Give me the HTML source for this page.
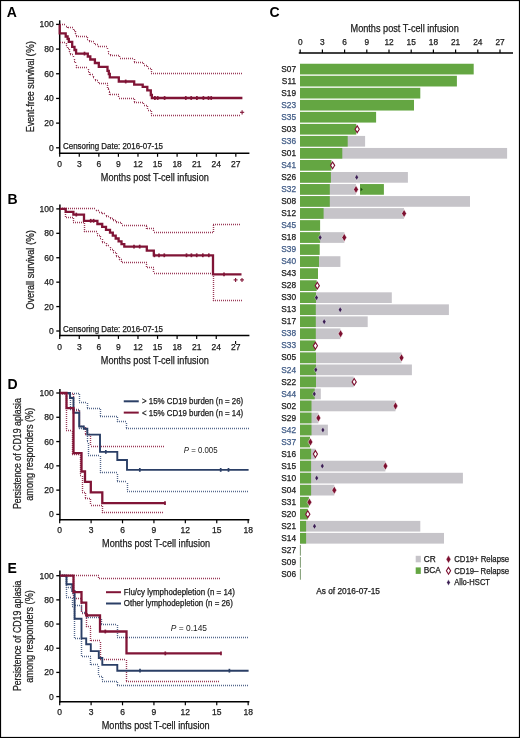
<!DOCTYPE html><html><head><meta charset="utf-8"><style>html,body{margin:0;padding:0;background:#fff;}svg{display:block;will-change:transform;}text{font-family:"Liberation Sans",sans-serif;}</style></head><body>
<svg width="520" height="738" viewBox="0 0 520 738">
<rect x="0" y="0" width="520" height="738" fill="#fff"/>
<text x="6.8" y="16.9" font-size="14" text-anchor="start" font-weight="bold" fill="#000" >A</text>
<line x1="59.7" y1="20.3" x2="59.7" y2="154.05" stroke="#000" stroke-width="1.5" />
<line x1="58.95" y1="153.3" x2="249.4" y2="153.3" stroke="#000" stroke-width="1.5" />
<line x1="56.1" y1="24.4" x2="59.7" y2="24.4" stroke="#000" stroke-width="1.3" />
<text x="53.7" y="27.4" font-size="8.5" text-anchor="end" font-weight="normal" fill="#1a1a1a" stroke="#1a1a1a" stroke-width="0.25" >100</text>
<line x1="56.1" y1="49.08" x2="59.7" y2="49.08" stroke="#000" stroke-width="1.3" />
<text x="53.7" y="52.08" font-size="8.5" text-anchor="end" font-weight="normal" fill="#1a1a1a" stroke="#1a1a1a" stroke-width="0.25" >80</text>
<line x1="56.1" y1="73.76" x2="59.7" y2="73.76" stroke="#000" stroke-width="1.3" />
<text x="53.7" y="76.76" font-size="8.5" text-anchor="end" font-weight="normal" fill="#1a1a1a" stroke="#1a1a1a" stroke-width="0.25" >60</text>
<line x1="56.1" y1="98.44" x2="59.7" y2="98.44" stroke="#000" stroke-width="1.3" />
<text x="53.7" y="101.44" font-size="8.5" text-anchor="end" font-weight="normal" fill="#1a1a1a" stroke="#1a1a1a" stroke-width="0.25" >40</text>
<line x1="56.1" y1="123.12" x2="59.7" y2="123.12" stroke="#000" stroke-width="1.3" />
<text x="53.7" y="126.12" font-size="8.5" text-anchor="end" font-weight="normal" fill="#1a1a1a" stroke="#1a1a1a" stroke-width="0.25" >20</text>
<line x1="56.1" y1="147.8" x2="59.7" y2="147.8" stroke="#000" stroke-width="1.3" />
<text x="53.7" y="150.8" font-size="8.5" text-anchor="end" font-weight="normal" fill="#1a1a1a" stroke="#1a1a1a" stroke-width="0.25" >0</text>
<line x1="59.7" y1="153.3" x2="59.7" y2="156.8" stroke="#000" stroke-width="1.2" />
<text x="59.7" y="166.6" font-size="8.5" text-anchor="middle" font-weight="normal" fill="#1a1a1a" stroke="#1a1a1a" stroke-width="0.25" >0</text>
<line x1="79.27" y1="153.3" x2="79.27" y2="156.8" stroke="#000" stroke-width="1.2" />
<text x="79.27" y="166.6" font-size="8.5" text-anchor="middle" font-weight="normal" fill="#1a1a1a" stroke="#1a1a1a" stroke-width="0.25" >3</text>
<line x1="98.84" y1="153.3" x2="98.84" y2="156.8" stroke="#000" stroke-width="1.2" />
<text x="98.84" y="166.6" font-size="8.5" text-anchor="middle" font-weight="normal" fill="#1a1a1a" stroke="#1a1a1a" stroke-width="0.25" >6</text>
<line x1="118.41" y1="153.3" x2="118.41" y2="156.8" stroke="#000" stroke-width="1.2" />
<text x="118.41" y="166.6" font-size="8.5" text-anchor="middle" font-weight="normal" fill="#1a1a1a" stroke="#1a1a1a" stroke-width="0.25" >9</text>
<line x1="137.98" y1="153.3" x2="137.98" y2="156.8" stroke="#000" stroke-width="1.2" />
<text x="137.98" y="166.6" font-size="8.5" text-anchor="middle" font-weight="normal" fill="#1a1a1a" stroke="#1a1a1a" stroke-width="0.25" >12</text>
<line x1="157.55" y1="153.3" x2="157.55" y2="156.8" stroke="#000" stroke-width="1.2" />
<text x="157.55" y="166.6" font-size="8.5" text-anchor="middle" font-weight="normal" fill="#1a1a1a" stroke="#1a1a1a" stroke-width="0.25" >15</text>
<line x1="177.11" y1="153.3" x2="177.11" y2="156.8" stroke="#000" stroke-width="1.2" />
<text x="177.11" y="166.6" font-size="8.5" text-anchor="middle" font-weight="normal" fill="#1a1a1a" stroke="#1a1a1a" stroke-width="0.25" >18</text>
<line x1="196.68" y1="153.3" x2="196.68" y2="156.8" stroke="#000" stroke-width="1.2" />
<text x="196.68" y="166.6" font-size="8.5" text-anchor="middle" font-weight="normal" fill="#1a1a1a" stroke="#1a1a1a" stroke-width="0.25" >21</text>
<line x1="216.25" y1="153.3" x2="216.25" y2="156.8" stroke="#000" stroke-width="1.2" />
<text x="216.25" y="166.6" font-size="8.5" text-anchor="middle" font-weight="normal" fill="#1a1a1a" stroke="#1a1a1a" stroke-width="0.25" >24</text>
<line x1="235.82" y1="153.3" x2="235.82" y2="156.8" stroke="#000" stroke-width="1.2" />
<text x="235.82" y="166.6" font-size="8.5" text-anchor="middle" font-weight="normal" fill="#1a1a1a" stroke="#1a1a1a" stroke-width="0.25" >27</text>
<text x="100.8" y="180.6" font-size="10.6" text-anchor="start" font-weight="normal" fill="#1a1a1a" stroke="#1a1a1a" stroke-width="0.25" textLength="108" lengthAdjust="spacingAndGlyphs" >Months post T-cell infusion</text>
<text transform="translate(34.4,132.3) rotate(-90)" x="0" y="0" font-size="10.4" fill="#222" stroke="#222" stroke-width="0.25" textLength="73.8" lengthAdjust="spacingAndGlyphs">Event-free survival</text>
<text transform="translate(34.4,56.4) rotate(-90)" x="0" y="0" font-size="10.4" fill="#222" stroke="#222" stroke-width="0.25" textLength="15.4" lengthAdjust="spacingAndGlyphs">(%)</text>
<text x="63" y="149.4" font-size="8.5" text-anchor="start" font-weight="normal" fill="#1a1a1a" stroke="#1a1a1a" stroke-width="0.25" textLength="100" lengthAdjust="spacingAndGlyphs" >Censoring Date: 2016-07-15</text>
<path d="M60 24.5H66" fill="none" stroke="#9a3a58" stroke-width="1.4" stroke-dasharray="1 1"/>
<path d="M66.5 26V26" fill="none" stroke="#9a3a58" stroke-width="1.4" stroke-dasharray="1 1"/>
<path d="M66 26.5H68" fill="none" stroke="#9a3a58" stroke-width="1.4" stroke-dasharray="1 1"/>
<path d="M67.5 27V28" fill="none" stroke="#9a3a58" stroke-width="1.4" stroke-dasharray="1 1"/>
<path d="M68 27.5H74" fill="none" stroke="#9a3a58" stroke-width="1.4" stroke-dasharray="1 1"/>
<path d="M73.5 29V30" fill="none" stroke="#9a3a58" stroke-width="1.4" stroke-dasharray="1 1"/>
<path d="M74 30.5H75" fill="none" stroke="#9a3a58" stroke-width="1.4" stroke-dasharray="1 1"/>
<path d="M75.5 31V34" fill="none" stroke="#9a3a58" stroke-width="1.4" stroke-dasharray="1 1"/>
<path d="M75 33.5H76" fill="none" stroke="#9a3a58" stroke-width="1.4" stroke-dasharray="1 1"/>
<path d="M76.5 35V36" fill="none" stroke="#9a3a58" stroke-width="1.4" stroke-dasharray="1 1"/>
<path d="M76 36.5H87" fill="none" stroke="#9a3a58" stroke-width="1.4" stroke-dasharray="1 1"/>
<path d="M87.5 37V39" fill="none" stroke="#9a3a58" stroke-width="1.4" stroke-dasharray="1 1"/>
<path d="M87 39.5H89" fill="none" stroke="#9a3a58" stroke-width="1.4" stroke-dasharray="1 1"/>
<path d="M89.5 40V42" fill="none" stroke="#9a3a58" stroke-width="1.4" stroke-dasharray="1 1"/>
<path d="M89 41.5H95" fill="none" stroke="#9a3a58" stroke-width="1.4" stroke-dasharray="1 1"/>
<path d="M94.5 43V45" fill="none" stroke="#9a3a58" stroke-width="1.4" stroke-dasharray="1 1"/>
<path d="M95 44.5H98" fill="none" stroke="#9a3a58" stroke-width="1.4" stroke-dasharray="1 1"/>
<path d="M98.5 46V47" fill="none" stroke="#9a3a58" stroke-width="1.4" stroke-dasharray="1 1"/>
<path d="M98 46.5H108" fill="none" stroke="#9a3a58" stroke-width="1.4" stroke-dasharray="1 1"/>
<path d="M107.5 48V50" fill="none" stroke="#9a3a58" stroke-width="1.4" stroke-dasharray="1 1"/>
<path d="M108 50.5H108" fill="none" stroke="#9a3a58" stroke-width="1.4" stroke-dasharray="1 1"/>
<path d="M108.5 51V53" fill="none" stroke="#9a3a58" stroke-width="1.4" stroke-dasharray="1 1"/>
<path d="M108 53.5H110" fill="none" stroke="#9a3a58" stroke-width="1.4" stroke-dasharray="1 1"/>
<path d="M110.5 54V55" fill="none" stroke="#9a3a58" stroke-width="1.4" stroke-dasharray="1 1"/>
<path d="M110 55.5H120" fill="none" stroke="#9a3a58" stroke-width="1.4" stroke-dasharray="1 1"/>
<path d="M119.5 56V58" fill="none" stroke="#9a3a58" stroke-width="1.4" stroke-dasharray="1 1"/>
<path d="M120 58.5H134" fill="none" stroke="#9a3a58" stroke-width="1.4" stroke-dasharray="1 1"/>
<path d="M134.5 59V62" fill="none" stroke="#9a3a58" stroke-width="1.4" stroke-dasharray="1 1"/>
<path d="M134 62.5H144" fill="none" stroke="#9a3a58" stroke-width="1.4" stroke-dasharray="1 1"/>
<path d="M143.5 63V65" fill="none" stroke="#9a3a58" stroke-width="1.4" stroke-dasharray="1 1"/>
<path d="M144 65.5H148" fill="none" stroke="#9a3a58" stroke-width="1.4" stroke-dasharray="1 1"/>
<path d="M147.5 66V68" fill="none" stroke="#9a3a58" stroke-width="1.4" stroke-dasharray="1 1"/>
<path d="M148 68.5H151" fill="none" stroke="#9a3a58" stroke-width="1.4" stroke-dasharray="1 1"/>
<path d="M151.5 69V73" fill="none" stroke="#9a3a58" stroke-width="1.4" stroke-dasharray="1 1"/>
<path d="M151 73.5H242" fill="none" stroke="#9a3a58" stroke-width="1.4" stroke-dasharray="1 1"/>
<path d="M60 42.5H66" fill="none" stroke="#9a3a58" stroke-width="1.4" stroke-dasharray="1 1"/>
<path d="M66.5 43V46" fill="none" stroke="#9a3a58" stroke-width="1.4" stroke-dasharray="1 1"/>
<path d="M66 45.5H68" fill="none" stroke="#9a3a58" stroke-width="1.4" stroke-dasharray="1 1"/>
<path d="M67.5 47V48" fill="none" stroke="#9a3a58" stroke-width="1.4" stroke-dasharray="1 1"/>
<path d="M68 48.5H69" fill="none" stroke="#9a3a58" stroke-width="1.4" stroke-dasharray="1 1"/>
<path d="M69.5 49V52" fill="none" stroke="#9a3a58" stroke-width="1.4" stroke-dasharray="1 1"/>
<path d="M69 51.5H70" fill="none" stroke="#9a3a58" stroke-width="1.4" stroke-dasharray="1 1"/>
<path d="M70.5 53V55" fill="none" stroke="#9a3a58" stroke-width="1.4" stroke-dasharray="1 1"/>
<path d="M70 54.5H74" fill="none" stroke="#9a3a58" stroke-width="1.4" stroke-dasharray="1 1"/>
<path d="M73.5 56V58" fill="none" stroke="#9a3a58" stroke-width="1.4" stroke-dasharray="1 1"/>
<path d="M74 57.5H74" fill="none" stroke="#9a3a58" stroke-width="1.4" stroke-dasharray="1 1"/>
<path d="M74.5 59V61" fill="none" stroke="#9a3a58" stroke-width="1.4" stroke-dasharray="1 1"/>
<path d="M74 61.5H76" fill="none" stroke="#9a3a58" stroke-width="1.4" stroke-dasharray="1 1"/>
<path d="M75.5 62V64" fill="none" stroke="#9a3a58" stroke-width="1.4" stroke-dasharray="1 1"/>
<path d="M76 64.5H76" fill="none" stroke="#9a3a58" stroke-width="1.4" stroke-dasharray="1 1"/>
<path d="M76.5 65V68" fill="none" stroke="#9a3a58" stroke-width="1.4" stroke-dasharray="1 1"/>
<path d="M76 67.5H88" fill="none" stroke="#9a3a58" stroke-width="1.4" stroke-dasharray="1 1"/>
<path d="M88.5 69V71" fill="none" stroke="#9a3a58" stroke-width="1.4" stroke-dasharray="1 1"/>
<path d="M88 71.5H90" fill="none" stroke="#9a3a58" stroke-width="1.4" stroke-dasharray="1 1"/>
<path d="M89.5 72V75" fill="none" stroke="#9a3a58" stroke-width="1.4" stroke-dasharray="1 1"/>
<path d="M90 74.5H93" fill="none" stroke="#9a3a58" stroke-width="1.4" stroke-dasharray="1 1"/>
<path d="M93.5 76V78" fill="none" stroke="#9a3a58" stroke-width="1.4" stroke-dasharray="1 1"/>
<path d="M93 77.5H95" fill="none" stroke="#9a3a58" stroke-width="1.4" stroke-dasharray="1 1"/>
<path d="M95.5 79V81" fill="none" stroke="#9a3a58" stroke-width="1.4" stroke-dasharray="1 1"/>
<path d="M95 80.5H99" fill="none" stroke="#9a3a58" stroke-width="1.4" stroke-dasharray="1 1"/>
<path d="M98.5 82V84" fill="none" stroke="#9a3a58" stroke-width="1.4" stroke-dasharray="1 1"/>
<path d="M99 83.5H108" fill="none" stroke="#9a3a58" stroke-width="1.4" stroke-dasharray="1 1"/>
<path d="M107.5 85V88" fill="none" stroke="#9a3a58" stroke-width="1.4" stroke-dasharray="1 1"/>
<path d="M108 88.5H109" fill="none" stroke="#9a3a58" stroke-width="1.4" stroke-dasharray="1 1"/>
<path d="M108.5 89V91" fill="none" stroke="#9a3a58" stroke-width="1.4" stroke-dasharray="1 1"/>
<path d="M109 91.5H110" fill="none" stroke="#9a3a58" stroke-width="1.4" stroke-dasharray="1 1"/>
<path d="M109.5 92V95" fill="none" stroke="#9a3a58" stroke-width="1.4" stroke-dasharray="1 1"/>
<path d="M110 94.5H119" fill="none" stroke="#9a3a58" stroke-width="1.4" stroke-dasharray="1 1"/>
<path d="M118.5 96V98" fill="none" stroke="#9a3a58" stroke-width="1.4" stroke-dasharray="1 1"/>
<path d="M119 98.5H134" fill="none" stroke="#9a3a58" stroke-width="1.4" stroke-dasharray="1 1"/>
<path d="M134.5 99V102" fill="none" stroke="#9a3a58" stroke-width="1.4" stroke-dasharray="1 1"/>
<path d="M134 102.5H144" fill="none" stroke="#9a3a58" stroke-width="1.4" stroke-dasharray="1 1"/>
<path d="M143.5 103V105" fill="none" stroke="#9a3a58" stroke-width="1.4" stroke-dasharray="1 1"/>
<path d="M144 105.5H148" fill="none" stroke="#9a3a58" stroke-width="1.4" stroke-dasharray="1 1"/>
<path d="M147.5 106V110" fill="none" stroke="#9a3a58" stroke-width="1.4" stroke-dasharray="1 1"/>
<path d="M148 110.5H151" fill="none" stroke="#9a3a58" stroke-width="1.4" stroke-dasharray="1 1"/>
<path d="M151.5 111V115" fill="none" stroke="#9a3a58" stroke-width="1.4" stroke-dasharray="1 1"/>
<path d="M151 115.5H241" fill="none" stroke="#9a3a58" stroke-width="1.4" stroke-dasharray="1 1"/>
<path d="M59.7 24.4 H59.7 V33.4 H65.7 V36.5 H67.6 V38.8 H68.8 V41.9 H72.2 V46.9 H74.5 V50.0 H76.1 V53.6 H87.8 V56.5 H90.3 V59.5 H94.9 V63.0 H98.8 V66.8 H107.5 V70.8 H108.8 V74.0 H109.8 V77.4 H118.8 V81.5 H134.2 V84.6 H142.7 V86.9 H147.3 V90.4 H150.8 V95.0 H151.9 V98.0 H242.4" fill="none" stroke="#801436" stroke-width="2.3" stroke-linejoin="miter" />
<line x1="84.5" y1="51.7" x2="84.5" y2="55.5" stroke="#801436" stroke-width="1.7" />
<line x1="125.7" y1="79.6" x2="125.7" y2="83.4" stroke="#801436" stroke-width="1.7" />
<line x1="154.9" y1="96.1" x2="154.9" y2="99.9" stroke="#801436" stroke-width="1.7" />
<line x1="157.7" y1="96.1" x2="157.7" y2="99.9" stroke="#801436" stroke-width="1.7" />
<line x1="164.6" y1="96.1" x2="164.6" y2="99.9" stroke="#801436" stroke-width="1.7" />
<line x1="185.8" y1="96.1" x2="185.8" y2="99.9" stroke="#801436" stroke-width="1.7" />
<line x1="191.2" y1="96.1" x2="191.2" y2="99.9" stroke="#801436" stroke-width="1.7" />
<line x1="196.9" y1="96.1" x2="196.9" y2="99.9" stroke="#801436" stroke-width="1.7" />
<line x1="203.4" y1="96.1" x2="203.4" y2="99.9" stroke="#801436" stroke-width="1.7" />
<line x1="208.5" y1="96.1" x2="208.5" y2="99.9" stroke="#801436" stroke-width="1.7" />
<line x1="211.2" y1="96.1" x2="211.2" y2="99.9" stroke="#801436" stroke-width="1.7" />
<line x1="240.0" y1="112.3" x2="244.2" y2="112.3" stroke="#801436" stroke-width="1.1" />
<line x1="242.1" y1="110.2" x2="242.1" y2="114.4" stroke="#801436" stroke-width="1.1" />
<text x="7.5" y="203.8" font-size="14" text-anchor="start" font-weight="bold" fill="#000" >B</text>
<line x1="59.9" y1="204.5" x2="59.9" y2="336.15" stroke="#000" stroke-width="1.5" />
<line x1="59.15" y1="335.4" x2="249.4" y2="335.4" stroke="#000" stroke-width="1.5" />
<line x1="56.3" y1="208.9" x2="59.9" y2="208.9" stroke="#000" stroke-width="1.3" />
<text x="53.7" y="211.9" font-size="8.5" text-anchor="end" font-weight="normal" fill="#1a1a1a" stroke="#1a1a1a" stroke-width="0.25" >100</text>
<line x1="56.3" y1="233.32" x2="59.9" y2="233.32" stroke="#000" stroke-width="1.3" />
<text x="53.7" y="236.32" font-size="8.5" text-anchor="end" font-weight="normal" fill="#1a1a1a" stroke="#1a1a1a" stroke-width="0.25" >80</text>
<line x1="56.3" y1="257.74" x2="59.9" y2="257.74" stroke="#000" stroke-width="1.3" />
<text x="53.7" y="260.74" font-size="8.5" text-anchor="end" font-weight="normal" fill="#1a1a1a" stroke="#1a1a1a" stroke-width="0.25" >60</text>
<line x1="56.3" y1="282.16" x2="59.9" y2="282.16" stroke="#000" stroke-width="1.3" />
<text x="53.7" y="285.16" font-size="8.5" text-anchor="end" font-weight="normal" fill="#1a1a1a" stroke="#1a1a1a" stroke-width="0.25" >40</text>
<line x1="56.3" y1="306.58" x2="59.9" y2="306.58" stroke="#000" stroke-width="1.3" />
<text x="53.7" y="309.58" font-size="8.5" text-anchor="end" font-weight="normal" fill="#1a1a1a" stroke="#1a1a1a" stroke-width="0.25" >20</text>
<line x1="56.3" y1="331.0" x2="59.9" y2="331.0" stroke="#000" stroke-width="1.3" />
<text x="53.7" y="334.0" font-size="8.5" text-anchor="end" font-weight="normal" fill="#1a1a1a" stroke="#1a1a1a" stroke-width="0.25" >0</text>
<line x1="59.7" y1="335.4" x2="59.7" y2="338.9" stroke="#000" stroke-width="1.2" />
<text x="59.7" y="349.7" font-size="8.5" text-anchor="middle" font-weight="normal" fill="#1a1a1a" stroke="#1a1a1a" stroke-width="0.25" >0</text>
<line x1="79.27" y1="335.4" x2="79.27" y2="338.9" stroke="#000" stroke-width="1.2" />
<text x="79.27" y="349.7" font-size="8.5" text-anchor="middle" font-weight="normal" fill="#1a1a1a" stroke="#1a1a1a" stroke-width="0.25" >3</text>
<line x1="98.84" y1="335.4" x2="98.84" y2="338.9" stroke="#000" stroke-width="1.2" />
<text x="98.84" y="349.7" font-size="8.5" text-anchor="middle" font-weight="normal" fill="#1a1a1a" stroke="#1a1a1a" stroke-width="0.25" >6</text>
<line x1="118.41" y1="335.4" x2="118.41" y2="338.9" stroke="#000" stroke-width="1.2" />
<text x="118.41" y="349.7" font-size="8.5" text-anchor="middle" font-weight="normal" fill="#1a1a1a" stroke="#1a1a1a" stroke-width="0.25" >9</text>
<line x1="137.98" y1="335.4" x2="137.98" y2="338.9" stroke="#000" stroke-width="1.2" />
<text x="137.98" y="349.7" font-size="8.5" text-anchor="middle" font-weight="normal" fill="#1a1a1a" stroke="#1a1a1a" stroke-width="0.25" >12</text>
<line x1="157.55" y1="335.4" x2="157.55" y2="338.9" stroke="#000" stroke-width="1.2" />
<text x="157.55" y="349.7" font-size="8.5" text-anchor="middle" font-weight="normal" fill="#1a1a1a" stroke="#1a1a1a" stroke-width="0.25" >15</text>
<line x1="177.11" y1="335.4" x2="177.11" y2="338.9" stroke="#000" stroke-width="1.2" />
<text x="177.11" y="349.7" font-size="8.5" text-anchor="middle" font-weight="normal" fill="#1a1a1a" stroke="#1a1a1a" stroke-width="0.25" >18</text>
<line x1="196.68" y1="335.4" x2="196.68" y2="338.9" stroke="#000" stroke-width="1.2" />
<text x="196.68" y="349.7" font-size="8.5" text-anchor="middle" font-weight="normal" fill="#1a1a1a" stroke="#1a1a1a" stroke-width="0.25" >21</text>
<line x1="216.25" y1="335.4" x2="216.25" y2="338.9" stroke="#000" stroke-width="1.2" />
<text x="216.25" y="349.7" font-size="8.5" text-anchor="middle" font-weight="normal" fill="#1a1a1a" stroke="#1a1a1a" stroke-width="0.25" >24</text>
<text x="235.82" y="349.7" font-size="8.5" text-anchor="middle" font-weight="normal" fill="#1a1a1a" stroke="#1a1a1a" stroke-width="0.25" >27</text>
<line x1="235.6" y1="341.0" x2="235.6" y2="344.0" stroke="#000" stroke-width="1.1" />
<text x="100.8" y="363.8" font-size="10.6" text-anchor="start" font-weight="normal" fill="#1a1a1a" stroke="#1a1a1a" stroke-width="0.25" textLength="108" lengthAdjust="spacingAndGlyphs" >Months post T-cell infusion</text>
<text transform="translate(34.4,309.6) rotate(-90)" x="0" y="0" font-size="10.4" fill="#222" stroke="#222" stroke-width="0.25" textLength="62.0" lengthAdjust="spacingAndGlyphs">Overall survival</text>
<text transform="translate(34.4,245.0) rotate(-90)" x="0" y="0" font-size="10.4" fill="#222" stroke="#222" stroke-width="0.25" textLength="15.0" lengthAdjust="spacingAndGlyphs">(%)</text>
<text x="63" y="332.3" font-size="8.5" text-anchor="start" font-weight="normal" fill="#1a1a1a" stroke="#1a1a1a" stroke-width="0.25" textLength="100" lengthAdjust="spacingAndGlyphs" >Censoring Date: 2016-07-15</text>
<path d="M60 208.5H96" fill="none" stroke="#9a3a58" stroke-width="1.4" stroke-dasharray="1 1"/>
<path d="M96.5 210V211" fill="none" stroke="#9a3a58" stroke-width="1.4" stroke-dasharray="1 1"/>
<path d="M96 210.5H99" fill="none" stroke="#9a3a58" stroke-width="1.4" stroke-dasharray="1 1"/>
<path d="M99.5 212V212" fill="none" stroke="#9a3a58" stroke-width="1.4" stroke-dasharray="1 1"/>
<path d="M99 212.5H102" fill="none" stroke="#9a3a58" stroke-width="1.4" stroke-dasharray="1 1"/>
<path d="M102.5 213V214" fill="none" stroke="#9a3a58" stroke-width="1.4" stroke-dasharray="1 1"/>
<path d="M102 213.5H106" fill="none" stroke="#9a3a58" stroke-width="1.4" stroke-dasharray="1 1"/>
<path d="M106.5 215V216" fill="none" stroke="#9a3a58" stroke-width="1.4" stroke-dasharray="1 1"/>
<path d="M106 216.5H110" fill="none" stroke="#9a3a58" stroke-width="1.4" stroke-dasharray="1 1"/>
<path d="M110.5 217V218" fill="none" stroke="#9a3a58" stroke-width="1.4" stroke-dasharray="1 1"/>
<path d="M110 218.5H113" fill="none" stroke="#9a3a58" stroke-width="1.4" stroke-dasharray="1 1"/>
<path d="M113.5 219V220" fill="none" stroke="#9a3a58" stroke-width="1.4" stroke-dasharray="1 1"/>
<path d="M113 220.5H116" fill="none" stroke="#9a3a58" stroke-width="1.4" stroke-dasharray="1 1"/>
<path d="M116.5 221V222" fill="none" stroke="#9a3a58" stroke-width="1.4" stroke-dasharray="1 1"/>
<path d="M116 222.5H122" fill="none" stroke="#9a3a58" stroke-width="1.4" stroke-dasharray="1 1"/>
<path d="M121.5 223V225" fill="none" stroke="#9a3a58" stroke-width="1.4" stroke-dasharray="1 1"/>
<path d="M122 225.5H147" fill="none" stroke="#9a3a58" stroke-width="1.4" stroke-dasharray="1 1"/>
<path d="M146.5 226V229" fill="none" stroke="#9a3a58" stroke-width="1.4" stroke-dasharray="1 1"/>
<path d="M147 228.5H154" fill="none" stroke="#9a3a58" stroke-width="1.4" stroke-dasharray="1 1"/>
<path d="M153.5 230V232" fill="none" stroke="#9a3a58" stroke-width="1.4" stroke-dasharray="1 1"/>
<path d="M154 232.5H213" fill="none" stroke="#9a3a58" stroke-width="1.4" stroke-dasharray="1 1"/>
<path d="M213.5 225V232" fill="none" stroke="#9a3a58" stroke-width="1.4" stroke-dasharray="1 1"/>
<path d="M213 224.5H240" fill="none" stroke="#9a3a58" stroke-width="1.4" stroke-dasharray="1 1"/>
<path d="M60 208.5H66" fill="none" stroke="#9a3a58" stroke-width="1.4" stroke-dasharray="1 1"/>
<path d="M65.5 210V217" fill="none" stroke="#9a3a58" stroke-width="1.4" stroke-dasharray="1 1"/>
<path d="M66 217.5H73" fill="none" stroke="#9a3a58" stroke-width="1.4" stroke-dasharray="1 1"/>
<path d="M73.5 218V222" fill="none" stroke="#9a3a58" stroke-width="1.4" stroke-dasharray="1 1"/>
<path d="M73 222.5H84" fill="none" stroke="#9a3a58" stroke-width="1.4" stroke-dasharray="1 1"/>
<path d="M84.5 223V232" fill="none" stroke="#9a3a58" stroke-width="1.4" stroke-dasharray="1 1"/>
<path d="M84 231.5H97" fill="none" stroke="#9a3a58" stroke-width="1.4" stroke-dasharray="1 1"/>
<path d="M97.5 233V235" fill="none" stroke="#9a3a58" stroke-width="1.4" stroke-dasharray="1 1"/>
<path d="M97 235.5H100" fill="none" stroke="#9a3a58" stroke-width="1.4" stroke-dasharray="1 1"/>
<path d="M100.5 236V238" fill="none" stroke="#9a3a58" stroke-width="1.4" stroke-dasharray="1 1"/>
<path d="M100 238.5H102" fill="none" stroke="#9a3a58" stroke-width="1.4" stroke-dasharray="1 1"/>
<path d="M102.5 239V242" fill="none" stroke="#9a3a58" stroke-width="1.4" stroke-dasharray="1 1"/>
<path d="M102 242.5H106" fill="none" stroke="#9a3a58" stroke-width="1.4" stroke-dasharray="1 1"/>
<path d="M106.5 243V246" fill="none" stroke="#9a3a58" stroke-width="1.4" stroke-dasharray="1 1"/>
<path d="M106 245.5H110" fill="none" stroke="#9a3a58" stroke-width="1.4" stroke-dasharray="1 1"/>
<path d="M110.5 247V249" fill="none" stroke="#9a3a58" stroke-width="1.4" stroke-dasharray="1 1"/>
<path d="M110 249.5H113" fill="none" stroke="#9a3a58" stroke-width="1.4" stroke-dasharray="1 1"/>
<path d="M113.5 250V252" fill="none" stroke="#9a3a58" stroke-width="1.4" stroke-dasharray="1 1"/>
<path d="M113 252.5H116" fill="none" stroke="#9a3a58" stroke-width="1.4" stroke-dasharray="1 1"/>
<path d="M116.5 253V256" fill="none" stroke="#9a3a58" stroke-width="1.4" stroke-dasharray="1 1"/>
<path d="M116 256.5H119" fill="none" stroke="#9a3a58" stroke-width="1.4" stroke-dasharray="1 1"/>
<path d="M119.5 257V260" fill="none" stroke="#9a3a58" stroke-width="1.4" stroke-dasharray="1 1"/>
<path d="M119 259.5H122" fill="none" stroke="#9a3a58" stroke-width="1.4" stroke-dasharray="1 1"/>
<path d="M121.5 261V263" fill="none" stroke="#9a3a58" stroke-width="1.4" stroke-dasharray="1 1"/>
<path d="M122 262.5H147" fill="none" stroke="#9a3a58" stroke-width="1.4" stroke-dasharray="1 1"/>
<path d="M146.5 264V268" fill="none" stroke="#9a3a58" stroke-width="1.4" stroke-dasharray="1 1"/>
<path d="M147 267.5H154" fill="none" stroke="#9a3a58" stroke-width="1.4" stroke-dasharray="1 1"/>
<path d="M153.5 269V273" fill="none" stroke="#9a3a58" stroke-width="1.4" stroke-dasharray="1 1"/>
<path d="M154 273.5H213" fill="none" stroke="#9a3a58" stroke-width="1.4" stroke-dasharray="1 1"/>
<path d="M213.5 274V301" fill="none" stroke="#9a3a58" stroke-width="1.4" stroke-dasharray="1 1"/>
<path d="M213 300.5H242" fill="none" stroke="#9a3a58" stroke-width="1.4" stroke-dasharray="1 1"/>
<path d="M59.9 208.8 H65.7 V211.9 H73.4 V214.6 H84.0 V217.6 H84.01 V220.8 H97.4 V224.0 H102.2 V226.9 H106.0 V229.8 H110.0 V232.7 H112.8 V235.6 H115.7 V238.5 H118.6 V241.3 H121.5 V244.2 H124.3 V246.6 H146.8 V250.7 H153.8 V255.3 H213.0 V274.4 H241.5" fill="none" stroke="#801436" stroke-width="2.3" stroke-linejoin="miter" />
<line x1="76.3" y1="212.7" x2="76.3" y2="216.5" stroke="#801436" stroke-width="1.7" />
<line x1="90.7" y1="218.9" x2="90.7" y2="222.70000000000002" stroke="#801436" stroke-width="1.7" />
<line x1="93.6" y1="218.9" x2="93.6" y2="222.70000000000002" stroke="#801436" stroke-width="1.7" />
<line x1="134.0" y1="244.7" x2="134.0" y2="248.5" stroke="#801436" stroke-width="1.7" />
<line x1="139.7" y1="244.7" x2="139.7" y2="248.5" stroke="#801436" stroke-width="1.7" />
<line x1="154.4" y1="253.4" x2="154.4" y2="257.2" stroke="#801436" stroke-width="1.7" />
<line x1="159.0" y1="253.4" x2="159.0" y2="257.2" stroke="#801436" stroke-width="1.7" />
<line x1="164.3" y1="253.4" x2="164.3" y2="257.2" stroke="#801436" stroke-width="1.7" />
<line x1="186.5" y1="253.4" x2="186.5" y2="257.2" stroke="#801436" stroke-width="1.7" />
<line x1="191.4" y1="253.4" x2="191.4" y2="257.2" stroke="#801436" stroke-width="1.7" />
<line x1="196.7" y1="253.4" x2="196.7" y2="257.2" stroke="#801436" stroke-width="1.7" />
<line x1="202.8" y1="253.4" x2="202.8" y2="257.2" stroke="#801436" stroke-width="1.7" />
<line x1="208.8" y1="253.4" x2="208.8" y2="257.2" stroke="#801436" stroke-width="1.7" />
<line x1="224.0" y1="272.5" x2="224.0" y2="276.29999999999995" stroke="#801436" stroke-width="1.7" />
<line x1="233.6" y1="279.9" x2="237.6" y2="279.9" stroke="#801436" stroke-width="1.1" />
<line x1="235.6" y1="277.9" x2="235.6" y2="281.9" stroke="#801436" stroke-width="1.1" />
<line x1="240.0" y1="279.9" x2="244.0" y2="279.9" stroke="#801436" stroke-width="1.1" />
<line x1="242.0" y1="277.9" x2="242.0" y2="281.9" stroke="#801436" stroke-width="1.1" />
<text x="7.5" y="388.8" font-size="14" text-anchor="start" font-weight="bold" fill="#000" >D</text>
<line x1="59.9" y1="389.0" x2="59.9" y2="520.55" stroke="#000" stroke-width="1.5" />
<line x1="59.15" y1="519.8" x2="249.4" y2="519.8" stroke="#000" stroke-width="1.5" />
<line x1="56.3" y1="393.0" x2="59.9" y2="393.0" stroke="#000" stroke-width="1.3" />
<text x="53.7" y="396.0" font-size="8.5" text-anchor="end" font-weight="normal" fill="#1a1a1a" stroke="#1a1a1a" stroke-width="0.25" >100</text>
<line x1="56.3" y1="417.28" x2="59.9" y2="417.28" stroke="#000" stroke-width="1.3" />
<text x="53.7" y="420.28" font-size="8.5" text-anchor="end" font-weight="normal" fill="#1a1a1a" stroke="#1a1a1a" stroke-width="0.25" >80</text>
<line x1="56.3" y1="441.56" x2="59.9" y2="441.56" stroke="#000" stroke-width="1.3" />
<text x="53.7" y="444.56" font-size="8.5" text-anchor="end" font-weight="normal" fill="#1a1a1a" stroke="#1a1a1a" stroke-width="0.25" >60</text>
<line x1="56.3" y1="465.84" x2="59.9" y2="465.84" stroke="#000" stroke-width="1.3" />
<text x="53.7" y="468.84" font-size="8.5" text-anchor="end" font-weight="normal" fill="#1a1a1a" stroke="#1a1a1a" stroke-width="0.25" >40</text>
<line x1="56.3" y1="490.12" x2="59.9" y2="490.12" stroke="#000" stroke-width="1.3" />
<text x="53.7" y="493.12" font-size="8.5" text-anchor="end" font-weight="normal" fill="#1a1a1a" stroke="#1a1a1a" stroke-width="0.25" >20</text>
<line x1="56.3" y1="514.4" x2="59.9" y2="514.4" stroke="#000" stroke-width="1.3" />
<text x="53.7" y="517.4" font-size="8.5" text-anchor="end" font-weight="normal" fill="#1a1a1a" stroke="#1a1a1a" stroke-width="0.25" >0</text>
<line x1="59.7" y1="519.8" x2="59.7" y2="523.3" stroke="#000" stroke-width="1.2" />
<text x="59.7" y="533.0" font-size="8.5" text-anchor="middle" font-weight="normal" fill="#1a1a1a" stroke="#1a1a1a" stroke-width="0.25" >0</text>
<line x1="91.11" y1="519.8" x2="91.11" y2="523.3" stroke="#000" stroke-width="1.2" />
<text x="91.11" y="533.0" font-size="8.5" text-anchor="middle" font-weight="normal" fill="#1a1a1a" stroke="#1a1a1a" stroke-width="0.25" >3</text>
<line x1="122.52" y1="519.8" x2="122.52" y2="523.3" stroke="#000" stroke-width="1.2" />
<text x="122.52" y="533.0" font-size="8.5" text-anchor="middle" font-weight="normal" fill="#1a1a1a" stroke="#1a1a1a" stroke-width="0.25" >6</text>
<line x1="153.93" y1="519.8" x2="153.93" y2="523.3" stroke="#000" stroke-width="1.2" />
<text x="153.93" y="533.0" font-size="8.5" text-anchor="middle" font-weight="normal" fill="#1a1a1a" stroke="#1a1a1a" stroke-width="0.25" >9</text>
<line x1="185.34" y1="519.8" x2="185.34" y2="523.3" stroke="#000" stroke-width="1.2" />
<text x="185.34" y="533.0" font-size="8.5" text-anchor="middle" font-weight="normal" fill="#1a1a1a" stroke="#1a1a1a" stroke-width="0.25" >12</text>
<line x1="216.75" y1="519.8" x2="216.75" y2="523.3" stroke="#000" stroke-width="1.2" />
<text x="216.75" y="533.0" font-size="8.5" text-anchor="middle" font-weight="normal" fill="#1a1a1a" stroke="#1a1a1a" stroke-width="0.25" >15</text>
<line x1="248.16" y1="519.8" x2="248.16" y2="523.3" stroke="#000" stroke-width="1.2" />
<text x="248.16" y="533.0" font-size="8.5" text-anchor="middle" font-weight="normal" fill="#1a1a1a" stroke="#1a1a1a" stroke-width="0.25" >18</text>
<text x="102.1" y="547.4" font-size="10.6" text-anchor="start" font-weight="normal" fill="#1a1a1a" stroke="#1a1a1a" stroke-width="0.25" textLength="108" lengthAdjust="spacingAndGlyphs" >Months post T-cell infusion</text>
<text transform="translate(21.0,453.6) rotate(-90)" x="0" y="0" font-size="10.4" text-anchor="middle" fill="#222" stroke="#222" stroke-width="0.25" textLength="111.0" lengthAdjust="spacingAndGlyphs">Persistence of CD19 aplasia</text>
<text transform="translate(33.0,454.25) rotate(-90)" x="0" y="0" font-size="10.4" text-anchor="middle" fill="#222" stroke="#222" stroke-width="0.25" textLength="93.0" lengthAdjust="spacingAndGlyphs">among responders (%)</text>
<path d="M60 393.5H79" fill="none" stroke="#55688c" stroke-width="1.4" stroke-dasharray="1 1"/>
<path d="M79.5 394V402" fill="none" stroke="#55688c" stroke-width="1.4" stroke-dasharray="1 1"/>
<path d="M79 402.5H87" fill="none" stroke="#55688c" stroke-width="1.4" stroke-dasharray="1 1"/>
<path d="M87.5 403V408" fill="none" stroke="#55688c" stroke-width="1.4" stroke-dasharray="1 1"/>
<path d="M87 408.5H100" fill="none" stroke="#55688c" stroke-width="1.4" stroke-dasharray="1 1"/>
<path d="M100.5 409V416" fill="none" stroke="#55688c" stroke-width="1.4" stroke-dasharray="1 1"/>
<path d="M100 416.5H117" fill="none" stroke="#55688c" stroke-width="1.4" stroke-dasharray="1 1"/>
<path d="M117.5 417V422" fill="none" stroke="#55688c" stroke-width="1.4" stroke-dasharray="1 1"/>
<path d="M117 421.5H126" fill="none" stroke="#55688c" stroke-width="1.4" stroke-dasharray="1 1"/>
<path d="M126.5 423V429" fill="none" stroke="#55688c" stroke-width="1.4" stroke-dasharray="1 1"/>
<path d="M126 428.5H249" fill="none" stroke="#55688c" stroke-width="1.4" stroke-dasharray="1 1"/>
<path d="M60 393.5H70" fill="none" stroke="#55688c" stroke-width="1.4" stroke-dasharray="1 1"/>
<path d="M70.5 394V409" fill="none" stroke="#55688c" stroke-width="1.4" stroke-dasharray="1 1"/>
<path d="M70 409.5H79" fill="none" stroke="#55688c" stroke-width="1.4" stroke-dasharray="1 1"/>
<path d="M79.5 410V429" fill="none" stroke="#55688c" stroke-width="1.4" stroke-dasharray="1 1"/>
<path d="M79 428.5H87" fill="none" stroke="#55688c" stroke-width="1.4" stroke-dasharray="1 1"/>
<path d="M87.5 430V442" fill="none" stroke="#55688c" stroke-width="1.4" stroke-dasharray="1 1"/>
<path d="M87 441.5H88" fill="none" stroke="#55688c" stroke-width="1.4" stroke-dasharray="1 1"/>
<path d="M88.5 443V455" fill="none" stroke="#55688c" stroke-width="1.4" stroke-dasharray="1 1"/>
<path d="M88 455.5H100" fill="none" stroke="#55688c" stroke-width="1.4" stroke-dasharray="1 1"/>
<path d="M100.5 456V473" fill="none" stroke="#55688c" stroke-width="1.4" stroke-dasharray="1 1"/>
<path d="M100 472.5H117" fill="none" stroke="#55688c" stroke-width="1.4" stroke-dasharray="1 1"/>
<path d="M117.5 474V482" fill="none" stroke="#55688c" stroke-width="1.4" stroke-dasharray="1 1"/>
<path d="M117 481.5H127" fill="none" stroke="#55688c" stroke-width="1.4" stroke-dasharray="1 1"/>
<path d="M127.5 483V491" fill="none" stroke="#55688c" stroke-width="1.4" stroke-dasharray="1 1"/>
<path d="M127 491.5H249" fill="none" stroke="#55688c" stroke-width="1.4" stroke-dasharray="1 1"/>
<path d="M60 393.5H74" fill="none" stroke="#9a3a58" stroke-width="1.4" stroke-dasharray="1 1"/>
<path d="M73.5 394V410" fill="none" stroke="#9a3a58" stroke-width="1.4" stroke-dasharray="1 1"/>
<path d="M74 410.5H79" fill="none" stroke="#9a3a58" stroke-width="1.4" stroke-dasharray="1 1"/>
<path d="M79.5 411V426" fill="none" stroke="#9a3a58" stroke-width="1.4" stroke-dasharray="1 1"/>
<path d="M79 426.5H85" fill="none" stroke="#9a3a58" stroke-width="1.4" stroke-dasharray="1 1"/>
<path d="M85.5 427V435" fill="none" stroke="#9a3a58" stroke-width="1.4" stroke-dasharray="1 1"/>
<path d="M85 434.5H91" fill="none" stroke="#9a3a58" stroke-width="1.4" stroke-dasharray="1 1"/>
<path d="M90.5 436V446" fill="none" stroke="#9a3a58" stroke-width="1.4" stroke-dasharray="1 1"/>
<path d="M91 446.5H164" fill="none" stroke="#9a3a58" stroke-width="1.4" stroke-dasharray="1 1"/>
<path d="M60 393.5H66" fill="none" stroke="#9a3a58" stroke-width="1.4" stroke-dasharray="1 1"/>
<path d="M66.5 394V430" fill="none" stroke="#9a3a58" stroke-width="1.4" stroke-dasharray="1 1"/>
<path d="M66 430.5H72" fill="none" stroke="#9a3a58" stroke-width="1.4" stroke-dasharray="1 1"/>
<path d="M72.5 431V454" fill="none" stroke="#9a3a58" stroke-width="1.4" stroke-dasharray="1 1"/>
<path d="M72 454.5H80" fill="none" stroke="#9a3a58" stroke-width="1.4" stroke-dasharray="1 1"/>
<path d="M80.5 455V475" fill="none" stroke="#9a3a58" stroke-width="1.4" stroke-dasharray="1 1"/>
<path d="M80 475.5H82" fill="none" stroke="#9a3a58" stroke-width="1.4" stroke-dasharray="1 1"/>
<path d="M82.5 476V492" fill="none" stroke="#9a3a58" stroke-width="1.4" stroke-dasharray="1 1"/>
<path d="M82 492.5H85" fill="none" stroke="#9a3a58" stroke-width="1.4" stroke-dasharray="1 1"/>
<path d="M85.5 493V498" fill="none" stroke="#9a3a58" stroke-width="1.4" stroke-dasharray="1 1"/>
<path d="M85 498.5H91" fill="none" stroke="#9a3a58" stroke-width="1.4" stroke-dasharray="1 1"/>
<path d="M90.5 499V505" fill="none" stroke="#9a3a58" stroke-width="1.4" stroke-dasharray="1 1"/>
<path d="M91 505.5H102" fill="none" stroke="#9a3a58" stroke-width="1.4" stroke-dasharray="1 1"/>
<path d="M102.5 506V513" fill="none" stroke="#9a3a58" stroke-width="1.4" stroke-dasharray="1 1"/>
<path d="M102 512.5H163" fill="none" stroke="#9a3a58" stroke-width="1.4" stroke-dasharray="1 1"/>
<path d="M59.9 393 H70 V398 H73.5 V412.7 H79.2 V426.5 H83.8 V428.8 H87.3 V434.6 H100 V451.9 H117.3 V460 H127 V469.9 H248.6" fill="none" stroke="#2b3f66" stroke-width="1.9" stroke-linejoin="miter" />
<line x1="105.8" y1="450.0" x2="105.8" y2="453.79999999999995" stroke="#2b3f66" stroke-width="1.7" />
<line x1="139.8" y1="468.0" x2="139.8" y2="471.79999999999995" stroke="#2b3f66" stroke-width="1.7" />
<line x1="220.7" y1="468.0" x2="220.7" y2="471.79999999999995" stroke="#2b3f66" stroke-width="1.7" />
<line x1="228.5" y1="468.0" x2="228.5" y2="471.79999999999995" stroke="#2b3f66" stroke-width="1.7" />
<path d="M59.9 393 H66.5 V408.1 H73.5 V453.1 H81.5 V471.5 H85 V481.9 H90.8 V492.3 H102.3 V503.2 H165.3" fill="none" stroke="#801436" stroke-width="2.3" stroke-linejoin="miter" />
<line x1="165.0" y1="501.3" x2="165.0" y2="505.09999999999997" stroke="#801436" stroke-width="1.7" />
<line x1="123.75" y1="401.3" x2="138.75" y2="401.3" stroke="#2b3f66" stroke-width="2.0" />
<line x1="123.75" y1="412.6" x2="138.75" y2="412.6" stroke="#801436" stroke-width="2.0" />
<text x="142" y="404.2" font-size="8.3" text-anchor="start" font-weight="normal" fill="#1a1a1a" stroke="#1a1a1a" stroke-width="0.25" textLength="101.2" lengthAdjust="spacingAndGlyphs" >&gt; 15% CD19 burden (n = 26)</text>
<text x="142" y="415.5" font-size="8.3" text-anchor="start" font-weight="normal" fill="#1a1a1a" stroke="#1a1a1a" stroke-width="0.25" textLength="101.2" lengthAdjust="spacingAndGlyphs" >&lt; 15% CD19 burden (n = 14)</text>
<text x="183.8" y="453.2" font-size="8.6" fill="#1a1a1a" textLength="33.8" lengthAdjust="spacingAndGlyphs"><tspan font-style="italic">P</tspan> = 0.005</text>
<text x="7.5" y="573.4" font-size="14" text-anchor="start" font-weight="bold" fill="#000" >E</text>
<line x1="59.9" y1="570.4" x2="59.9" y2="702.55" stroke="#000" stroke-width="1.5" />
<line x1="59.15" y1="701.8" x2="249.4" y2="701.8" stroke="#000" stroke-width="1.5" />
<line x1="56.3" y1="575.7" x2="59.9" y2="575.7" stroke="#000" stroke-width="1.3" />
<text x="53.7" y="578.7" font-size="8.5" text-anchor="end" font-weight="normal" fill="#1a1a1a" stroke="#1a1a1a" stroke-width="0.25" >100</text>
<line x1="56.3" y1="599.88" x2="59.9" y2="599.88" stroke="#000" stroke-width="1.3" />
<text x="53.7" y="602.88" font-size="8.5" text-anchor="end" font-weight="normal" fill="#1a1a1a" stroke="#1a1a1a" stroke-width="0.25" >80</text>
<line x1="56.3" y1="624.06" x2="59.9" y2="624.06" stroke="#000" stroke-width="1.3" />
<text x="53.7" y="627.06" font-size="8.5" text-anchor="end" font-weight="normal" fill="#1a1a1a" stroke="#1a1a1a" stroke-width="0.25" >60</text>
<line x1="56.3" y1="648.24" x2="59.9" y2="648.24" stroke="#000" stroke-width="1.3" />
<text x="53.7" y="651.24" font-size="8.5" text-anchor="end" font-weight="normal" fill="#1a1a1a" stroke="#1a1a1a" stroke-width="0.25" >40</text>
<line x1="56.3" y1="672.42" x2="59.9" y2="672.42" stroke="#000" stroke-width="1.3" />
<text x="53.7" y="675.42" font-size="8.5" text-anchor="end" font-weight="normal" fill="#1a1a1a" stroke="#1a1a1a" stroke-width="0.25" >20</text>
<line x1="56.3" y1="696.6" x2="59.9" y2="696.6" stroke="#000" stroke-width="1.3" />
<text x="53.7" y="699.6" font-size="8.5" text-anchor="end" font-weight="normal" fill="#1a1a1a" stroke="#1a1a1a" stroke-width="0.25" >0</text>
<line x1="59.7" y1="701.8" x2="59.7" y2="705.3" stroke="#000" stroke-width="1.2" />
<text x="59.7" y="715.0" font-size="8.5" text-anchor="middle" font-weight="normal" fill="#1a1a1a" stroke="#1a1a1a" stroke-width="0.25" >0</text>
<line x1="91.11" y1="701.8" x2="91.11" y2="705.3" stroke="#000" stroke-width="1.2" />
<text x="91.11" y="715.0" font-size="8.5" text-anchor="middle" font-weight="normal" fill="#1a1a1a" stroke="#1a1a1a" stroke-width="0.25" >3</text>
<line x1="122.52" y1="701.8" x2="122.52" y2="705.3" stroke="#000" stroke-width="1.2" />
<text x="122.52" y="715.0" font-size="8.5" text-anchor="middle" font-weight="normal" fill="#1a1a1a" stroke="#1a1a1a" stroke-width="0.25" >6</text>
<line x1="153.93" y1="701.8" x2="153.93" y2="705.3" stroke="#000" stroke-width="1.2" />
<text x="153.93" y="715.0" font-size="8.5" text-anchor="middle" font-weight="normal" fill="#1a1a1a" stroke="#1a1a1a" stroke-width="0.25" >9</text>
<line x1="185.34" y1="701.8" x2="185.34" y2="705.3" stroke="#000" stroke-width="1.2" />
<text x="185.34" y="715.0" font-size="8.5" text-anchor="middle" font-weight="normal" fill="#1a1a1a" stroke="#1a1a1a" stroke-width="0.25" >12</text>
<line x1="216.75" y1="701.8" x2="216.75" y2="705.3" stroke="#000" stroke-width="1.2" />
<text x="216.75" y="715.0" font-size="8.5" text-anchor="middle" font-weight="normal" fill="#1a1a1a" stroke="#1a1a1a" stroke-width="0.25" >15</text>
<line x1="248.16" y1="701.8" x2="248.16" y2="705.3" stroke="#000" stroke-width="1.2" />
<text x="248.16" y="715.0" font-size="8.5" text-anchor="middle" font-weight="normal" fill="#1a1a1a" stroke="#1a1a1a" stroke-width="0.25" >18</text>
<text x="101.7" y="729.3" font-size="10.6" text-anchor="start" font-weight="normal" fill="#1a1a1a" stroke="#1a1a1a" stroke-width="0.25" textLength="108" lengthAdjust="spacingAndGlyphs" >Months post T-cell infusion</text>
<text transform="translate(21.0,635.8) rotate(-90)" x="0" y="0" font-size="10.4" text-anchor="middle" fill="#222" stroke="#222" stroke-width="0.25" textLength="110.6" lengthAdjust="spacingAndGlyphs">Persistence of CD19 aplasia</text>
<text transform="translate(33.0,636.5) rotate(-90)" x="0" y="0" font-size="10.4" text-anchor="middle" fill="#222" stroke="#222" stroke-width="0.25" textLength="92.5" lengthAdjust="spacingAndGlyphs">among responders (%)</text>
<path d="M60 575.5H99" fill="none" stroke="#9a3a58" stroke-width="1.4" stroke-dasharray="1 1"/>
<path d="M98.5 577V578" fill="none" stroke="#9a3a58" stroke-width="1.4" stroke-dasharray="1 1"/>
<path d="M99 578.5H220" fill="none" stroke="#9a3a58" stroke-width="1.4" stroke-dasharray="1 1"/>
<path d="M60 575.5H74" fill="none" stroke="#9a3a58" stroke-width="1.4" stroke-dasharray="1 1"/>
<path d="M73.5 577V598" fill="none" stroke="#9a3a58" stroke-width="1.4" stroke-dasharray="1 1"/>
<path d="M74 598.5H82" fill="none" stroke="#9a3a58" stroke-width="1.4" stroke-dasharray="1 1"/>
<path d="M81.5 599V613" fill="none" stroke="#9a3a58" stroke-width="1.4" stroke-dasharray="1 1"/>
<path d="M82 613.5H86" fill="none" stroke="#9a3a58" stroke-width="1.4" stroke-dasharray="1 1"/>
<path d="M86.5 614V627" fill="none" stroke="#9a3a58" stroke-width="1.4" stroke-dasharray="1 1"/>
<path d="M86 626.5H91" fill="none" stroke="#9a3a58" stroke-width="1.4" stroke-dasharray="1 1"/>
<path d="M90.5 628V641" fill="none" stroke="#9a3a58" stroke-width="1.4" stroke-dasharray="1 1"/>
<path d="M91 640.5H100" fill="none" stroke="#9a3a58" stroke-width="1.4" stroke-dasharray="1 1"/>
<path d="M100.5 642V659" fill="none" stroke="#9a3a58" stroke-width="1.4" stroke-dasharray="1 1"/>
<path d="M100 659.5H126" fill="none" stroke="#9a3a58" stroke-width="1.4" stroke-dasharray="1 1"/>
<path d="M126.5 660V681" fill="none" stroke="#9a3a58" stroke-width="1.4" stroke-dasharray="1 1"/>
<path d="M126 681.5H220" fill="none" stroke="#9a3a58" stroke-width="1.4" stroke-dasharray="1 1"/>
<path d="M60 575.5H66" fill="none" stroke="#55688c" stroke-width="1.4" stroke-dasharray="1 1"/>
<path d="M66.5 577V588" fill="none" stroke="#55688c" stroke-width="1.4" stroke-dasharray="1 1"/>
<path d="M66 587.5H72" fill="none" stroke="#55688c" stroke-width="1.4" stroke-dasharray="1 1"/>
<path d="M72.5 589V593" fill="none" stroke="#55688c" stroke-width="1.4" stroke-dasharray="1 1"/>
<path d="M72 593.5H75" fill="none" stroke="#55688c" stroke-width="1.4" stroke-dasharray="1 1"/>
<path d="M74.5 594V605" fill="none" stroke="#55688c" stroke-width="1.4" stroke-dasharray="1 1"/>
<path d="M75 605.5H82" fill="none" stroke="#55688c" stroke-width="1.4" stroke-dasharray="1 1"/>
<path d="M81.5 606V612" fill="none" stroke="#55688c" stroke-width="1.4" stroke-dasharray="1 1"/>
<path d="M82 612.5H86" fill="none" stroke="#55688c" stroke-width="1.4" stroke-dasharray="1 1"/>
<path d="M86.5 613V618" fill="none" stroke="#55688c" stroke-width="1.4" stroke-dasharray="1 1"/>
<path d="M86 617.5H101" fill="none" stroke="#55688c" stroke-width="1.4" stroke-dasharray="1 1"/>
<path d="M101.5 619V624" fill="none" stroke="#55688c" stroke-width="1.4" stroke-dasharray="1 1"/>
<path d="M101 624.5H117" fill="none" stroke="#55688c" stroke-width="1.4" stroke-dasharray="1 1"/>
<path d="M117.5 625V637" fill="none" stroke="#55688c" stroke-width="1.4" stroke-dasharray="1 1"/>
<path d="M117 637.5H249" fill="none" stroke="#55688c" stroke-width="1.4" stroke-dasharray="1 1"/>
<path d="M60 575.5H66" fill="none" stroke="#55688c" stroke-width="1.4" stroke-dasharray="1 1"/>
<path d="M66.5 577V597" fill="none" stroke="#55688c" stroke-width="1.4" stroke-dasharray="1 1"/>
<path d="M66 597.5H72" fill="none" stroke="#55688c" stroke-width="1.4" stroke-dasharray="1 1"/>
<path d="M72.5 598V606" fill="none" stroke="#55688c" stroke-width="1.4" stroke-dasharray="1 1"/>
<path d="M72 606.5H75" fill="none" stroke="#55688c" stroke-width="1.4" stroke-dasharray="1 1"/>
<path d="M74.5 607V638" fill="none" stroke="#55688c" stroke-width="1.4" stroke-dasharray="1 1"/>
<path d="M75 638.5H82" fill="none" stroke="#55688c" stroke-width="1.4" stroke-dasharray="1 1"/>
<path d="M81.5 639V657" fill="none" stroke="#55688c" stroke-width="1.4" stroke-dasharray="1 1"/>
<path d="M82 656.5H91" fill="none" stroke="#55688c" stroke-width="1.4" stroke-dasharray="1 1"/>
<path d="M90.5 658V665" fill="none" stroke="#55688c" stroke-width="1.4" stroke-dasharray="1 1"/>
<path d="M91 664.5H99" fill="none" stroke="#55688c" stroke-width="1.4" stroke-dasharray="1 1"/>
<path d="M98.5 666V676" fill="none" stroke="#55688c" stroke-width="1.4" stroke-dasharray="1 1"/>
<path d="M99 676.5H102" fill="none" stroke="#55688c" stroke-width="1.4" stroke-dasharray="1 1"/>
<path d="M102.5 677V681" fill="none" stroke="#55688c" stroke-width="1.4" stroke-dasharray="1 1"/>
<path d="M102 681.5H117" fill="none" stroke="#55688c" stroke-width="1.4" stroke-dasharray="1 1"/>
<path d="M117.5 682V686" fill="none" stroke="#55688c" stroke-width="1.4" stroke-dasharray="1 1"/>
<path d="M117 685.5H249" fill="none" stroke="#55688c" stroke-width="1.4" stroke-dasharray="1 1"/>
<path d="M59.9 575.7 H66.5 V584.2 H72.3 V591 H74.6 V618.8 H81.5 V638.4 H86.2 V644.2 H90.8 V651.1 H98.8 V658 H102.3 V664.9 H117.3 V670.7 H248.6" fill="none" stroke="#2b3f66" stroke-width="1.9" stroke-linejoin="miter" />
<line x1="140.0" y1="668.8000000000001" x2="140.0" y2="672.6" stroke="#2b3f66" stroke-width="1.7" />
<line x1="229.4" y1="668.8000000000001" x2="229.4" y2="672.6" stroke="#2b3f66" stroke-width="1.7" />
<path d="M59.9 575.7 H73.5 V592.2 H81.5 V602.6 H86.2 V615.3 H100 V631.5 H126.5 V653.4 H221" fill="none" stroke="#801436" stroke-width="2.3" stroke-linejoin="miter" />
<line x1="87.2" y1="613.4" x2="87.2" y2="617.1999999999999" stroke="#801436" stroke-width="1.7" />
<line x1="105.3" y1="629.6" x2="105.3" y2="633.4" stroke="#801436" stroke-width="1.7" />
<line x1="165.3" y1="651.5" x2="165.3" y2="655.3" stroke="#801436" stroke-width="1.7" />
<line x1="221.0" y1="651.5" x2="221.0" y2="655.3" stroke="#801436" stroke-width="1.7" />
<line x1="106" y1="592.2" x2="121" y2="592.2" stroke="#801436" stroke-width="2.0" />
<line x1="106" y1="603.5" x2="121" y2="603.5" stroke="#2b3f66" stroke-width="2.0" />
<text x="123.8" y="595.0" font-size="8.3" text-anchor="start" font-weight="normal" fill="#1a1a1a" stroke="#1a1a1a" stroke-width="0.25" textLength="111.1" lengthAdjust="spacingAndGlyphs" >Flu/cy lymphodepletion (n = 14)</text>
<text x="123.8" y="606.3" font-size="8.3" text-anchor="start" font-weight="normal" fill="#1a1a1a" stroke="#1a1a1a" stroke-width="0.25" textLength="109.1" lengthAdjust="spacingAndGlyphs" >Other lymphodepletion (n = 26)</text>
<text x="170.8" y="630.8" font-size="8.6" fill="#1a1a1a" textLength="36.2" lengthAdjust="spacingAndGlyphs"><tspan font-style="italic">P</tspan> = 0.145</text>
<text x="269.5" y="17.0" font-size="14" text-anchor="start" font-weight="bold" fill="#000" >C</text>
<text x="350.5" y="32.0" font-size="10.6" text-anchor="start" font-weight="normal" fill="#1a1a1a" stroke="#1a1a1a" stroke-width="0.25" textLength="108.3" lengthAdjust="spacingAndGlyphs" >Months post T-cell infusion</text>
<line x1="298.8" y1="53.0" x2="513.0" y2="53.0" stroke="#000" stroke-width="1.5" />
<line x1="300.2" y1="49.6" x2="300.2" y2="53.0" stroke="#000" stroke-width="1.2" />
<text x="300.2" y="44.9" font-size="8.3" text-anchor="middle" font-weight="normal" fill="#1a1a1a" stroke="#1a1a1a" stroke-width="0.25" >0</text>
<line x1="322.4" y1="49.6" x2="322.4" y2="53.0" stroke="#000" stroke-width="1.2" />
<text x="322.4" y="44.9" font-size="8.3" text-anchor="middle" font-weight="normal" fill="#1a1a1a" stroke="#1a1a1a" stroke-width="0.25" >3</text>
<line x1="344.6" y1="49.6" x2="344.6" y2="53.0" stroke="#000" stroke-width="1.2" />
<text x="344.6" y="44.9" font-size="8.3" text-anchor="middle" font-weight="normal" fill="#1a1a1a" stroke="#1a1a1a" stroke-width="0.25" >6</text>
<line x1="366.8" y1="49.6" x2="366.8" y2="53.0" stroke="#000" stroke-width="1.2" />
<text x="366.8" y="44.9" font-size="8.3" text-anchor="middle" font-weight="normal" fill="#1a1a1a" stroke="#1a1a1a" stroke-width="0.25" >9</text>
<line x1="389.0" y1="49.6" x2="389.0" y2="53.0" stroke="#000" stroke-width="1.2" />
<text x="389.0" y="44.9" font-size="8.3" text-anchor="middle" font-weight="normal" fill="#1a1a1a" stroke="#1a1a1a" stroke-width="0.25" >12</text>
<line x1="411.2" y1="49.6" x2="411.2" y2="53.0" stroke="#000" stroke-width="1.2" />
<text x="411.2" y="44.9" font-size="8.3" text-anchor="middle" font-weight="normal" fill="#1a1a1a" stroke="#1a1a1a" stroke-width="0.25" >15</text>
<line x1="433.4" y1="49.6" x2="433.4" y2="53.0" stroke="#000" stroke-width="1.2" />
<text x="433.4" y="44.9" font-size="8.3" text-anchor="middle" font-weight="normal" fill="#1a1a1a" stroke="#1a1a1a" stroke-width="0.25" >18</text>
<line x1="455.6" y1="49.6" x2="455.6" y2="53.0" stroke="#000" stroke-width="1.2" />
<text x="455.6" y="44.9" font-size="8.3" text-anchor="middle" font-weight="normal" fill="#1a1a1a" stroke="#1a1a1a" stroke-width="0.25" >21</text>
<line x1="477.8" y1="49.6" x2="477.8" y2="53.0" stroke="#000" stroke-width="1.2" />
<text x="477.8" y="44.9" font-size="8.3" text-anchor="middle" font-weight="normal" fill="#1a1a1a" stroke="#1a1a1a" stroke-width="0.25" >24</text>
<line x1="500.0" y1="49.6" x2="500.0" y2="53.0" stroke="#000" stroke-width="1.2" />
<text x="500.0" y="44.9" font-size="8.3" text-anchor="middle" font-weight="normal" fill="#1a1a1a" stroke="#1a1a1a" stroke-width="0.25" >27</text>
<text x="296.0" y="71.75" font-size="8.3" text-anchor="end" font-weight="normal" fill="#1a1a1a" stroke="#1a1a1a" stroke-width="0.25" >S07</text>
<rect x="300.0" y="63.75" width="173.7" height="10.7" fill="#64a642"/>
<text x="296.0" y="83.78" font-size="8.3" text-anchor="end" font-weight="normal" fill="#1a1a1a" stroke="#1a1a1a" stroke-width="0.25" >S11</text>
<rect x="300.0" y="75.78" width="156.9" height="10.7" fill="#64a642"/>
<text x="296.0" y="95.81" font-size="8.3" text-anchor="end" font-weight="normal" fill="#1a1a1a" stroke="#1a1a1a" stroke-width="0.25" >S19</text>
<rect x="300.0" y="87.81" width="120.3" height="10.7" fill="#64a642"/>
<text x="296.0" y="107.84" font-size="8.3" text-anchor="end" font-weight="normal" fill="#3f5a85" stroke="#3f5a85" stroke-width="0.25" >S23</text>
<rect x="300.0" y="99.84" width="114.0" height="10.7" fill="#64a642"/>
<text x="296.0" y="119.87" font-size="8.3" text-anchor="end" font-weight="normal" fill="#3f5a85" stroke="#3f5a85" stroke-width="0.25" >S35</text>
<rect x="300.0" y="111.87" width="76.1" height="10.7" fill="#64a642"/>
<text x="296.0" y="131.9" font-size="8.3" text-anchor="end" font-weight="normal" fill="#1a1a1a" stroke="#1a1a1a" stroke-width="0.25" >S03</text>
<rect x="300.0" y="123.9" width="56.3" height="10.7" fill="#64a642"/>
<path d="M357.2 125.85 L359.3 129.25 L357.2 132.65 L355.09999999999997 129.25 Z" fill="#fff" stroke="#7d1030" stroke-width="1.1"/>
<text x="296.0" y="143.93" font-size="8.3" text-anchor="end" font-weight="normal" fill="#3f5a85" stroke="#3f5a85" stroke-width="0.25" >S36</text>
<rect x="300.0" y="135.93" width="65.1" height="10.7" fill="#c6c4c9"/>
<rect x="300.0" y="135.93" width="47.7" height="10.7" fill="#64a642"/>
<text x="296.0" y="155.96" font-size="8.3" text-anchor="end" font-weight="normal" fill="#1a1a1a" stroke="#1a1a1a" stroke-width="0.25" >S01</text>
<rect x="300.0" y="147.96" width="207.1" height="10.7" fill="#c6c4c9"/>
<rect x="300.0" y="147.96" width="42.3" height="10.7" fill="#64a642"/>
<text x="296.0" y="167.99" font-size="8.3" text-anchor="end" font-weight="normal" fill="#3f5a85" stroke="#3f5a85" stroke-width="0.25" >S41</text>
<rect x="300.0" y="159.99" width="31.5" height="10.7" fill="#64a642"/>
<path d="M332.6 161.94 L334.70000000000005 165.34 L332.6 168.74 L330.5 165.34 Z" fill="#fff" stroke="#7d1030" stroke-width="1.1"/>
<text x="296.0" y="180.02" font-size="8.3" text-anchor="end" font-weight="normal" fill="#1a1a1a" stroke="#1a1a1a" stroke-width="0.25" >S26</text>
<rect x="300.0" y="172.02" width="107.9" height="10.7" fill="#c6c4c9"/>
<rect x="300.0" y="172.02" width="30.9" height="10.7" fill="#64a642"/>
<path d="M356.7 174.37 L358.5 177.37 L356.7 180.37 L354.9 177.37 Z" fill="#3a1d52" stroke="#fff" stroke-width="0.4"/>
<text x="296.0" y="192.05" font-size="8.3" text-anchor="end" font-weight="normal" fill="#3f5a85" stroke="#3f5a85" stroke-width="0.25" >S32</text>
<rect x="300.0" y="184.05" width="56.0" height="10.7" fill="#c6c4c9"/>
<rect x="300.0" y="184.05" width="29.8" height="10.7" fill="#64a642"/>
<rect x="360.0" y="184.05" width="23.9" height="10.7" fill="#64a642"/>
<path d="M360.6 187.6 L362.8 189.4 L360.6 191.20000000000002 Z" fill="#1f4a14"/>
<path d="M356.0 185.4 L358.4 189.4 L356.0 193.4 L353.6 189.4 Z" fill="#7d1030" stroke="#fff" stroke-width="0.5"/>
<text x="296.0" y="204.08" font-size="8.3" text-anchor="end" font-weight="normal" fill="#1a1a1a" stroke="#1a1a1a" stroke-width="0.25" >S08</text>
<rect x="300.0" y="196.08" width="170.0" height="10.7" fill="#c6c4c9"/>
<rect x="300.0" y="196.08" width="29.8" height="10.7" fill="#64a642"/>
<text x="296.0" y="216.11" font-size="8.3" text-anchor="end" font-weight="normal" fill="#1a1a1a" stroke="#1a1a1a" stroke-width="0.25" >S12</text>
<rect x="300.0" y="208.11" width="104.0" height="10.7" fill="#c6c4c9"/>
<rect x="300.0" y="208.11" width="23.6" height="10.7" fill="#64a642"/>
<path d="M404.1 209.46 L406.5 213.46 L404.1 217.46 L401.70000000000005 213.46 Z" fill="#7d1030" stroke="#fff" stroke-width="0.5"/>
<text x="296.0" y="228.14" font-size="8.3" text-anchor="end" font-weight="normal" fill="#3f5a85" stroke="#3f5a85" stroke-width="0.25" >S45</text>
<rect x="300.0" y="220.14" width="20.1" height="10.7" fill="#64a642"/>
<text x="296.0" y="240.17" font-size="8.3" text-anchor="end" font-weight="normal" fill="#1a1a1a" stroke="#1a1a1a" stroke-width="0.25" >S18</text>
<rect x="300.0" y="232.17" width="44.4" height="10.7" fill="#c6c4c9"/>
<rect x="300.0" y="232.17" width="20.1" height="10.7" fill="#64a642"/>
<path d="M320.1 234.52 L321.90000000000003 237.52 L320.1 240.52 L318.3 237.52 Z" fill="#3a1d52" stroke="#fff" stroke-width="0.4"/>
<path d="M344.3 233.52 L346.7 237.52 L344.3 241.52 L341.90000000000003 237.52 Z" fill="#7d1030" stroke="#fff" stroke-width="0.5"/>
<text x="296.0" y="252.2" font-size="8.3" text-anchor="end" font-weight="normal" fill="#3f5a85" stroke="#3f5a85" stroke-width="0.25" >S39</text>
<rect x="300.0" y="244.2" width="19.7" height="10.7" fill="#64a642"/>
<text x="296.0" y="264.23" font-size="8.3" text-anchor="end" font-weight="normal" fill="#3f5a85" stroke="#3f5a85" stroke-width="0.25" >S40</text>
<rect x="300.0" y="256.23" width="40.4" height="10.7" fill="#c6c4c9"/>
<rect x="300.0" y="256.23" width="19.0" height="10.7" fill="#64a642"/>
<text x="296.0" y="276.26" font-size="8.3" text-anchor="end" font-weight="normal" fill="#1a1a1a" stroke="#1a1a1a" stroke-width="0.25" >S43</text>
<rect x="300.0" y="268.26" width="18.0" height="10.7" fill="#64a642"/>
<text x="296.0" y="288.29" font-size="8.3" text-anchor="end" font-weight="normal" fill="#1a1a1a" stroke="#1a1a1a" stroke-width="0.25" >S28</text>
<rect x="300.0" y="280.29" width="16.7" height="10.7" fill="#64a642"/>
<path d="M317.3 282.24 L319.40000000000003 285.64 L317.3 289.03999999999996 L315.2 285.64 Z" fill="#fff" stroke="#7d1030" stroke-width="1.1"/>
<text x="296.0" y="300.32" font-size="8.3" text-anchor="end" font-weight="normal" fill="#1a1a1a" stroke="#1a1a1a" stroke-width="0.25" >S30</text>
<rect x="300.0" y="292.32" width="91.8" height="10.7" fill="#c6c4c9"/>
<rect x="300.0" y="292.32" width="16.0" height="10.7" fill="#64a642"/>
<path d="M316.5 294.67 L318.3 297.67 L316.5 300.67 L314.7 297.67 Z" fill="#3a1d52" stroke="#fff" stroke-width="0.4"/>
<text x="296.0" y="312.35" font-size="8.3" text-anchor="end" font-weight="normal" fill="#1a1a1a" stroke="#1a1a1a" stroke-width="0.25" >S13</text>
<rect x="300.0" y="304.35" width="148.9" height="10.7" fill="#c6c4c9"/>
<rect x="300.0" y="304.35" width="15.8" height="10.7" fill="#64a642"/>
<path d="M340.2 306.7 L342.0 309.7 L340.2 312.7 L338.4 309.7 Z" fill="#3a1d52" stroke="#fff" stroke-width="0.4"/>
<text x="296.0" y="324.38" font-size="8.3" text-anchor="end" font-weight="normal" fill="#1a1a1a" stroke="#1a1a1a" stroke-width="0.25" >S17</text>
<rect x="300.0" y="316.38" width="67.7" height="10.7" fill="#c6c4c9"/>
<rect x="300.0" y="316.38" width="15.8" height="10.7" fill="#64a642"/>
<path d="M324.2 318.73 L326.0 321.73 L324.2 324.73 L322.4 321.73 Z" fill="#3a1d52" stroke="#fff" stroke-width="0.4"/>
<text x="296.0" y="336.41" font-size="8.3" text-anchor="end" font-weight="normal" fill="#3f5a85" stroke="#3f5a85" stroke-width="0.25" >S38</text>
<rect x="300.0" y="328.41" width="40.4" height="10.7" fill="#c6c4c9"/>
<rect x="300.0" y="328.41" width="15.8" height="10.7" fill="#64a642"/>
<path d="M340.6 329.76 L343.0 333.76 L340.6 337.76 L338.20000000000005 333.76 Z" fill="#7d1030" stroke="#fff" stroke-width="0.5"/>
<text x="296.0" y="348.44" font-size="8.3" text-anchor="end" font-weight="normal" fill="#3f5a85" stroke="#3f5a85" stroke-width="0.25" >S33</text>
<rect x="300.0" y="340.44" width="15.4" height="10.7" fill="#64a642"/>
<path d="M315.4 342.39000000000004 L317.5 345.79 L315.4 349.19 L313.29999999999995 345.79 Z" fill="#fff" stroke="#7d1030" stroke-width="1.1"/>
<text x="296.0" y="360.47" font-size="8.3" text-anchor="end" font-weight="normal" fill="#1a1a1a" stroke="#1a1a1a" stroke-width="0.25" >S05</text>
<rect x="300.0" y="352.47" width="101.5" height="10.7" fill="#c6c4c9"/>
<rect x="300.0" y="352.47" width="16.0" height="10.7" fill="#64a642"/>
<path d="M401.5 353.82 L403.9 357.82 L401.5 361.82 L399.1 357.82 Z" fill="#7d1030" stroke="#fff" stroke-width="0.5"/>
<text x="296.0" y="372.5" font-size="8.3" text-anchor="end" font-weight="normal" fill="#3f5a85" stroke="#3f5a85" stroke-width="0.25" >S24</text>
<rect x="300.0" y="364.5" width="111.9" height="10.7" fill="#c6c4c9"/>
<rect x="300.0" y="364.5" width="16.0" height="10.7" fill="#64a642"/>
<path d="M315.8 366.85 L317.6 369.85 L315.8 372.85 L314.0 369.85 Z" fill="#3a1d52" stroke="#fff" stroke-width="0.4"/>
<text x="296.0" y="384.53" font-size="8.3" text-anchor="end" font-weight="normal" fill="#1a1a1a" stroke="#1a1a1a" stroke-width="0.25" >S22</text>
<rect x="300.0" y="376.53" width="53.7" height="10.7" fill="#c6c4c9"/>
<rect x="300.0" y="376.53" width="16.0" height="10.7" fill="#64a642"/>
<path d="M354.2 378.48 L356.3 381.88 L354.2 385.28 L352.09999999999997 381.88 Z" fill="#fff" stroke="#7d1030" stroke-width="1.1"/>
<text x="296.0" y="396.56" font-size="8.3" text-anchor="end" font-weight="normal" fill="#3f5a85" stroke="#3f5a85" stroke-width="0.25" >S44</text>
<rect x="300.0" y="388.56" width="20.8" height="10.7" fill="#c6c4c9"/>
<rect x="300.0" y="388.56" width="14.7" height="10.7" fill="#64a642"/>
<path d="M314.3 390.91 L316.1 393.91 L314.3 396.91 L312.5 393.91 Z" fill="#3a1d52" stroke="#fff" stroke-width="0.4"/>
<text x="296.0" y="408.59" font-size="8.3" text-anchor="end" font-weight="normal" fill="#1a1a1a" stroke="#1a1a1a" stroke-width="0.25" >S02</text>
<rect x="300.0" y="400.59" width="95.5" height="10.7" fill="#c6c4c9"/>
<rect x="300.0" y="400.59" width="11.5" height="10.7" fill="#64a642"/>
<path d="M395.5 401.94 L397.9 405.94 L395.5 409.94 L393.1 405.94 Z" fill="#7d1030" stroke="#fff" stroke-width="0.5"/>
<text x="296.0" y="420.62" font-size="8.3" text-anchor="end" font-weight="normal" fill="#1a1a1a" stroke="#1a1a1a" stroke-width="0.25" >S29</text>
<rect x="300.0" y="412.62" width="18.4" height="10.7" fill="#c6c4c9"/>
<rect x="300.0" y="412.62" width="11.5" height="10.7" fill="#64a642"/>
<path d="M318.4 413.97 L320.79999999999995 417.97 L318.4 421.97 L316.0 417.97 Z" fill="#7d1030" stroke="#fff" stroke-width="0.5"/>
<text x="296.0" y="432.65" font-size="8.3" text-anchor="end" font-weight="normal" fill="#3f5a85" stroke="#3f5a85" stroke-width="0.25" >S42</text>
<rect x="300.0" y="424.65" width="27.9" height="10.7" fill="#c6c4c9"/>
<rect x="300.0" y="424.65" width="11.5" height="10.7" fill="#64a642"/>
<path d="M322.9 427.0 L324.7 430.0 L322.9 433.0 L321.09999999999997 430.0 Z" fill="#3a1d52" stroke="#fff" stroke-width="0.4"/>
<text x="296.0" y="444.68" font-size="8.3" text-anchor="end" font-weight="normal" fill="#3f5a85" stroke="#3f5a85" stroke-width="0.25" >S37</text>
<rect x="300.0" y="436.68" width="10.0" height="10.7" fill="#64a642"/>
<path d="M310.4 438.03 L312.79999999999995 442.03 L310.4 446.03 L308.0 442.03 Z" fill="#7d1030" stroke="#fff" stroke-width="0.5"/>
<text x="296.0" y="456.71" font-size="8.3" text-anchor="end" font-weight="normal" fill="#1a1a1a" stroke="#1a1a1a" stroke-width="0.25" >S16</text>
<rect x="300.0" y="448.71" width="15.4" height="10.7" fill="#c6c4c9"/>
<rect x="300.0" y="448.71" width="11.1" height="10.7" fill="#64a642"/>
<path d="M315.4 450.66 L317.5 454.06 L315.4 457.46 L313.29999999999995 454.06 Z" fill="#fff" stroke="#7d1030" stroke-width="1.1"/>
<text x="296.0" y="468.74" font-size="8.3" text-anchor="end" font-weight="normal" fill="#1a1a1a" stroke="#1a1a1a" stroke-width="0.25" >S15</text>
<rect x="300.0" y="460.74" width="85.4" height="10.7" fill="#c6c4c9"/>
<rect x="300.0" y="460.74" width="11.1" height="10.7" fill="#64a642"/>
<path d="M322.3 463.09 L324.1 466.09 L322.3 469.09 L320.5 466.09 Z" fill="#3a1d52" stroke="#fff" stroke-width="0.4"/>
<path d="M385.4 462.09 L387.79999999999995 466.09 L385.4 470.09 L383.0 466.09 Z" fill="#7d1030" stroke="#fff" stroke-width="0.5"/>
<text x="296.0" y="480.77" font-size="8.3" text-anchor="end" font-weight="normal" fill="#1a1a1a" stroke="#1a1a1a" stroke-width="0.25" >S10</text>
<rect x="300.0" y="472.77" width="162.9" height="10.7" fill="#c6c4c9"/>
<rect x="300.0" y="472.77" width="11.1" height="10.7" fill="#64a642"/>
<path d="M316.7 475.12 L318.5 478.12 L316.7 481.12 L314.9 478.12 Z" fill="#3a1d52" stroke="#fff" stroke-width="0.4"/>
<text x="296.0" y="492.8" font-size="8.3" text-anchor="end" font-weight="normal" fill="#1a1a1a" stroke="#1a1a1a" stroke-width="0.25" >S04</text>
<rect x="300.0" y="484.8" width="34.3" height="10.7" fill="#c6c4c9"/>
<rect x="300.0" y="484.8" width="11.1" height="10.7" fill="#64a642"/>
<path d="M334.3 486.15 L336.7 490.15 L334.3 494.15 L331.90000000000003 490.15 Z" fill="#7d1030" stroke="#fff" stroke-width="0.5"/>
<text x="296.0" y="504.83" font-size="8.3" text-anchor="end" font-weight="normal" fill="#1a1a1a" stroke="#1a1a1a" stroke-width="0.25" >S31</text>
<rect x="300.0" y="496.83" width="8.9" height="10.7" fill="#64a642"/>
<path d="M309.4 498.18 L311.79999999999995 502.18 L309.4 506.18 L307.0 502.18 Z" fill="#7d1030" stroke="#fff" stroke-width="0.5"/>
<text x="296.0" y="516.86" font-size="8.3" text-anchor="end" font-weight="normal" fill="#1a1a1a" stroke="#1a1a1a" stroke-width="0.25" >S20</text>
<rect x="300.0" y="508.86" width="7.8" height="10.7" fill="#64a642"/>
<path d="M307.8 510.81000000000006 L309.90000000000003 514.21 L307.8 517.61 L305.7 514.21 Z" fill="#fff" stroke="#7d1030" stroke-width="1.1"/>
<text x="296.0" y="528.89" font-size="8.3" text-anchor="end" font-weight="normal" fill="#1a1a1a" stroke="#1a1a1a" stroke-width="0.25" >S21</text>
<rect x="300.0" y="520.89" width="120.3" height="10.7" fill="#c6c4c9"/>
<rect x="300.0" y="520.89" width="6.1" height="10.7" fill="#64a642"/>
<path d="M314.5 523.24 L316.3 526.24 L314.5 529.24 L312.7 526.24 Z" fill="#3a1d52" stroke="#fff" stroke-width="0.4"/>
<text x="296.0" y="540.92" font-size="8.3" text-anchor="end" font-weight="normal" fill="#1a1a1a" stroke="#1a1a1a" stroke-width="0.25" >S14</text>
<rect x="300.0" y="532.92" width="144.0" height="10.7" fill="#c6c4c9"/>
<rect x="300.0" y="532.92" width="6.1" height="10.7" fill="#64a642"/>
<text x="296.0" y="552.95" font-size="8.3" text-anchor="end" font-weight="normal" fill="#1a1a1a" stroke="#1a1a1a" stroke-width="0.25" >S27</text>
<rect x="299.9" y="544.95" width="0.9" height="10.7" fill="#6f8f62"/>
<text x="296.0" y="564.98" font-size="8.3" text-anchor="end" font-weight="normal" fill="#1a1a1a" stroke="#1a1a1a" stroke-width="0.25" >S09</text>
<rect x="299.9" y="556.98" width="0.9" height="10.7" fill="#6f8f62"/>
<text x="296.0" y="577.01" font-size="8.3" text-anchor="end" font-weight="normal" fill="#1a1a1a" stroke="#1a1a1a" stroke-width="0.25" >S06</text>
<rect x="299.9" y="569.01" width="0.9" height="10.7" fill="#6f8f62"/>
<rect x="415.7" y="555.8" width="5.1" height="6.5" fill="#c6c4c9"/>
<rect x="415.7" y="567.4" width="5.1" height="6.5" fill="#64a642"/>
<text x="423.8" y="561.8" font-size="8.3" text-anchor="start" font-weight="normal" fill="#1a1a1a" stroke="#1a1a1a" stroke-width="0.25" >CR</text>
<text x="423.8" y="573.4" font-size="8.3" text-anchor="start" font-weight="normal" fill="#1a1a1a" stroke="#1a1a1a" stroke-width="0.25" >BCA</text>
<path d="M448.5 555.3 L450.9 559.3 L448.5 563.3 L446.1 559.3 Z" fill="#7d1030" stroke="#fff" stroke-width="0.5"/>
<path d="M448.5 567.4 L450.6 570.8 L448.5 574.1999999999999 L446.4 570.8 Z" fill="#fff" stroke="#7d1030" stroke-width="1.1"/>
<path d="M448.5 579.6 L450.3 582.6 L448.5 585.6 L446.7 582.6 Z" fill="#3a1d52" stroke="#fff" stroke-width="0.4"/>
<text x="454.2" y="562.2" font-size="8.3" text-anchor="start" font-weight="normal" fill="#1a1a1a" stroke="#1a1a1a" stroke-width="0.25" textLength="55" lengthAdjust="spacingAndGlyphs" >CD19+ Relapse</text>
<text x="454.2" y="573.7" font-size="8.3" text-anchor="start" font-weight="normal" fill="#1a1a1a" stroke="#1a1a1a" stroke-width="0.25" textLength="55" lengthAdjust="spacingAndGlyphs" >CD19– Relapse</text>
<text x="454.2" y="585.4" font-size="8.3" text-anchor="start" font-weight="normal" fill="#1a1a1a" stroke="#1a1a1a" stroke-width="0.25" textLength="35.8" lengthAdjust="spacingAndGlyphs" >Allo-HSCT</text>
<text x="316.2" y="593.6" font-size="8.3" text-anchor="start" font-weight="normal" fill="#1a1a1a" stroke="#1a1a1a" stroke-width="0.25" textLength="63.8" lengthAdjust="spacingAndGlyphs" >As of 2016-07-15</text>
<rect x="0.5" y="0.5" width="519" height="737" fill="none" stroke="#000" stroke-width="1.2"/>
</svg></body></html>
